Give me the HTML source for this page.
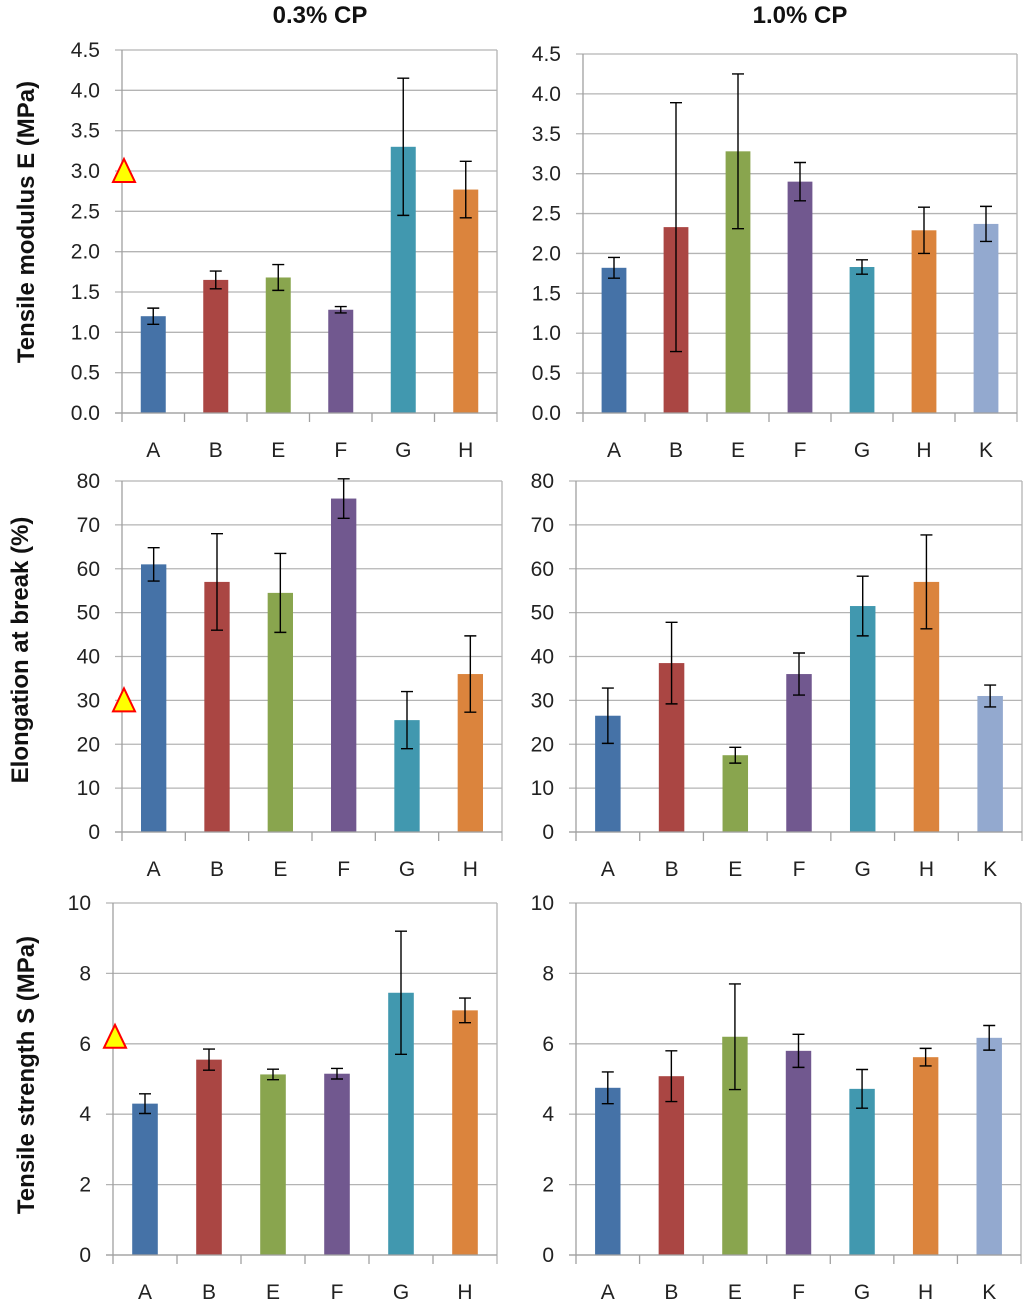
<!DOCTYPE html>
<html><head><meta charset="utf-8">
<style>
html,body{margin:0;padding:0;background:#fff;}
svg{display:block;font-family:"Liberation Sans",sans-serif;}
</style></head>
<body>
<svg id="chart" width="1024" height="1306" viewBox="0 0 1024 1306" xmlns="http://www.w3.org/2000/svg">
<text x="320" y="23" text-anchor="middle" font-size="24" font-weight="bold" fill="#111">0.3% CP</text>
<text x="800" y="23" text-anchor="middle" font-size="24" font-weight="bold" fill="#111">1.0% CP</text>
<text transform="translate(34,222) rotate(-90)" text-anchor="middle" font-size="24" font-weight="bold" fill="#111">Tensile modulus E (MPa)</text>
<text transform="translate(28,650) rotate(-90)" text-anchor="middle" font-size="24" font-weight="bold" fill="#111">Elongation at break (%)</text>
<text transform="translate(34,1075) rotate(-90)" text-anchor="middle" font-size="24" font-weight="bold" fill="#111">Tensile strength S (MPa)</text>
</svg>
<script>
const cats6 = ["A","B","E","F","G","H"];
const cats7 = ["A","B","E","F","G","H","K"];
const colorMap = {A:"#4572a7",B:"#aa4643",E:"#89a54e",F:"#71588f",G:"#4198af",H:"#db843d",K:"#93a9cf"};
const modulus03 = [1.2,1.65,1.68,1.28,3.3,2.77];
const modulus03Err = [0.1,0.11,0.16,0.04,0.85,0.35];
const modulus10 = [1.82,2.33,3.28,2.9,1.83,2.29,2.37];
const modulus10Err = [0.13,1.56,0.97,0.24,0.09,0.29,0.22];
const elong03 = [61,57,54.5,76,25.5,36];
const elong03Err = [3.8,11,9,4.5,6.5,8.7];
const elong10 = [26.5,38.5,17.5,36,51.5,57,31];
const elong10Err = [6.3,9.3,1.8,4.8,6.8,10.7,2.5];
const strength03 = [4.3,5.55,5.13,5.15,7.45,6.95];
const strength03Err = [0.28,0.3,0.15,0.15,1.75,0.35];
const strength10 = [4.75,5.08,6.2,5.8,4.72,5.62,6.17];
const strength10Err = [0.45,0.72,1.5,0.47,0.55,0.25,0.35];
const modTicks = [0,0.5,1,1.5,2,2.5,3,3.5,4,4.5];
const elongTicks = [0,10,20,30,40,50,60,70,80];
const strTicks = [0,2,4,6,8,10];
const refModulus = 3.0, refElong = 30, refStrength = 6.2;

const svg = document.getElementById('chart');
const NS = "http://www.w3.org/2000/svg";
function mk(tag, attrs){const e=document.createElementNS(NS,tag);for(const k in attrs)e.setAttribute(k,attrs[k]);return e;}

function panel(id, g, cats, vals, errs, ticks, dec, ref){
  const grp = mk('g',{});
  
  
  svg.appendChild(grp);
  const max = ticks[ticks.length-1];
  const y = v => g.yb - (v/max)*(g.yb-g.yt);
  const bw = (g.x1-g.x0)/cats.length;
  const x = i => g.x0 + bw*(i+0.5);
  ticks.forEach(t=>{
    const ln = mk('line',{x1:g.x0-7,x2:g.x1,y1:y(t),y2:y(t),stroke:'#b4b4b4','stroke-width':1.3});
    
    
    grp.appendChild(ln);
    const tx = mk('text',{x:g.x0-22,y:y(t)+7,'text-anchor':'end','font-size':21,fill:'#222'});
    tx.textContent = t.toFixed(dec);
    
    
    grp.appendChild(tx);
  });
  const ax = mk('line',{x1:g.x0,x2:g.x0,y1:g.yt,y2:g.yb+9,stroke:'#a0a0a0','stroke-width':1.3});
  
  
  grp.appendChild(ax);
  const rb = mk('line',{x1:g.x1,x2:g.x1,y1:g.yt,y2:g.yb+9,stroke:'#b4b4b4','stroke-width':1.3});
  
  
  grp.appendChild(rb);
  for(let i=1;i<cats.length;i++){
    const tk = mk('line',{x1:g.x0+bw*i,x2:g.x0+bw*i,y1:g.yb,y2:g.yb+9,stroke:'#a0a0a0','stroke-width':1.3});
    
    
    grp.appendChild(tk);
  }
  cats.forEach((c,i)=>{
    const w = bw*0.4;
    const r = mk('rect',{x:x(i)-w/2,y:y(vals[i]),width:w,height:g.yb-y(vals[i]),fill:colorMap[c]});
    
    
    grp.appendChild(r);
    const hi=y(vals[i]+errs[i]), lo=y(vals[i]-errs[i]);
    const eb = mk('path',{d:`M${x(i)} ${hi}V${lo}M${x(i)-6} ${hi}H${x(i)+6}M${x(i)-6} ${lo}H${x(i)+6}`,stroke:'#000','stroke-width':1.4,fill:'none'});
    
    
    grp.appendChild(eb);
    const tl = mk('text',{x:x(i),y:g.yb+44,'text-anchor':'middle','font-size':21,fill:'#222'});
    tl.textContent = c;
    
    
    grp.appendChild(tl);
  });
  const bl = mk('line',{x1:g.x0-7,x2:g.x1,y1:g.yb,y2:g.yb,stroke:'#a0a0a0','stroke-width':1.3});
  
  
  grp.appendChild(bl);
  if(ref!==null){
    const cy = y(ref), cx = g.x0+2;
    const tri = mk('polygon',{points:`${cx},${cy-12} ${cx+11},${cy+11} ${cx-11},${cy+11}`,fill:'#ffff00',stroke:'#ff0000','stroke-width':2});
    
    
    grp.appendChild(tri);
  }
}
panel('modulus-03',{x0:122,x1:497,yt:50,yb:413},cats6,modulus03,modulus03Err,modTicks,1,refModulus);
panel('modulus-10',{x0:583,x1:1017,yt:54,yb:413},cats7,modulus10,modulus10Err,modTicks,1,null);
panel('elongation-03',{x0:122,x1:502,yt:481,yb:832},cats6,elong03,elong03Err,elongTicks,0,refElong);
panel('elongation-10',{x0:576,x1:1022,yt:481,yb:832},cats7,elong10,elong10Err,elongTicks,0,null);
panel('strength-03',{x0:113,x1:497,yt:903,yb:1255},cats6,strength03,strength03Err,strTicks,0,refStrength);
panel('strength-10',{x0:576,x1:1021,yt:903,yb:1255},cats7,strength10,strength10Err,strTicks,0,null);
</script>
</body></html>
